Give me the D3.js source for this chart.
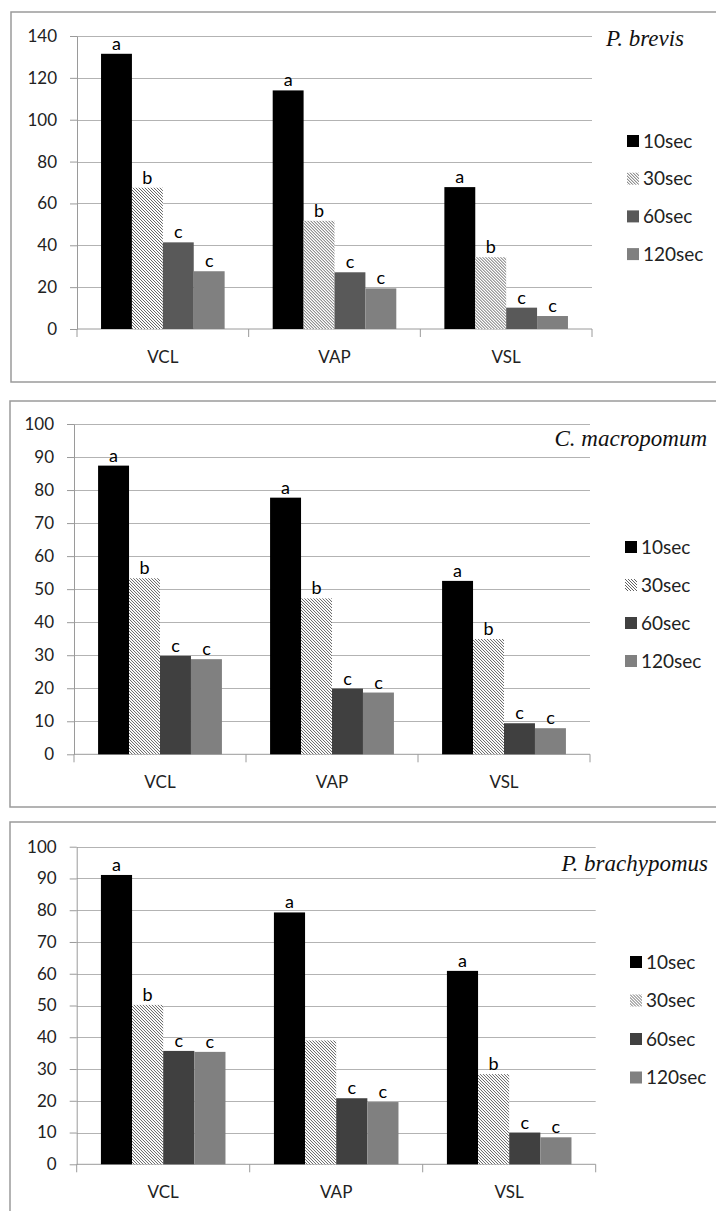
<!DOCTYPE html>
<html>
<head>
<meta charset="utf-8">
<script src="https://cdn.jsdelivr.net/npm/d3@7"></script>
<style>
  body { margin: 0; background: #fff; }
  text { font-family: Lato, "Liberation Sans", sans-serif; }
</style>
</head>
<body>
<div id="chart"></div>
<script>
var categories = ["VCL", "VAP", "VSL"];
var seriesNames = ["10sec", "30sec", "60sec", "120sec"];

// values per category, in series order
var brevisValues = [[131.5, 67.5, 41.4, 27.6], [114, 51.7, 27.1, 19.4], [67.8, 34.3, 10.2, 6.2]];
var brevisLetters = [["a", "b", "c", "c"], ["a", "b", "c", "c"], ["a", "b", "c", "c"]];

var macropomumValues = [[87.4, 53.3, 29.8, 28.8], [77.7, 47.2, 19.9, 18.7], [52.5, 34.9, 9.4, 7.9]];
var macropomumLetters = [["a", "b", "c", "c"], ["a", "b", "c", "c"], ["a", "b", "c", "c"]];

var brachypomusValues = [[91.1, 50.2, 35.7, 35.4], [79.3, 39.0, 20.8, 19.6], [60.9, 28.4, 10.0, 8.5]];
var brachypomusLetters = [["a", "b", "c", "c"], ["a", "", "c", "c"], ["a", "b", "c", "c"]];

var brevisTicks = [0, 20, 40, 60, 80, 100, 120, 140];
var tenTicks = [0, 10, 20, 30, 40, 50, 60, 70, 80, 90, 100];

var width = 716, height = 1211;

var svg = d3.select("#chart").append("svg")
  .attr("width", width)
  .attr("height", height);

var defs = svg.append("defs");
defs.append("pattern")
  .attr("id", "hatch")
  .attr("patternUnits", "userSpaceOnUse")
  .attr("width", 3)
  .attr("height", 3)
  .call(function(p) {
    p.append("rect").attr("width", 3).attr("height", 3).attr("fill", "#fff");
    p.append("path")
      .attr("d", "M-1,-1 L4,4 M-1,2 L1,4 M2,-1 L4,1")
      .attr("stroke", "#505050")
      .attr("stroke-width", 0.9);
  });

function drawPanel(opt) {
  var colours = ["#000", "url(#hatch)", opt.darkColour, "#808080"];

  // frame
  svg.append("rect")
    .attr("x", opt.box[0]).attr("y", opt.box[1])
    .attr("width", opt.box[2] - opt.box[0]).attr("height", opt.box[3] - opt.box[1])
    .attr("fill", "none")
    .attr("stroke", "#9a9a9a")
    .attr("stroke-width", 1.5);

  var y = d3.scaleLinear().domain([0, opt.ticks[opt.ticks.length - 1]]).range([opt.bottom, opt.top]);
  var x0 = d3.scaleBand().domain(categories).range([opt.left, opt.right]).paddingInner(0.28).paddingOuter(0.14);
  var x1 = d3.scaleBand().domain(seriesNames).range([0, x0.bandwidth()]);

  var g = svg.append("g");

  // gridlines
  g.selectAll(null)
    .data(opt.ticks.slice(1))
    .enter().append("line")
    .attr("x1", opt.left).attr("x2", opt.right)
    .attr("y1", function(d) { return Math.round(y(d)) + 0.5; })
    .attr("y2", function(d) { return Math.round(y(d)) + 0.5; })
    .attr("stroke", "#b3b3b3")
    .attr("stroke-width", 1);

  // y axis
  var yAxis = g.append("g")
    .attr("transform", "translate(" + opt.left + ",0)")
    .call(d3.axisLeft(y).tickValues(opt.ticks).tickSize(7).tickPadding(13).tickSizeOuter(0));
  yAxis.select(".domain").attr("stroke", "#9a9a9a");
  yAxis.selectAll(".tick line").attr("stroke", "#9a9a9a");
  yAxis.selectAll(".tick text")
    .attr("fill", "#222")
    .style("font-size", "17px")
    .style("font-family", "Lato, sans-serif");

  // x axis baseline + category separators
  g.append("line")
    .attr("x1", opt.left).attr("x2", opt.right)
    .attr("y1", y(0)).attr("y2", y(0))
    .attr("stroke", "#9a9a9a");
  var step = x0.step();
  g.selectAll(null)
    .data(d3.range(categories.length + 1))
    .enter().append("line")
    .attr("x1", function(i) { return opt.left + i * step; })
    .attr("x2", function(i) { return opt.left + i * step; })
    .attr("y1", y(0)).attr("y2", y(0) + 8)
    .attr("stroke", "#9a9a9a");

  g.selectAll(null)
    .data(categories)
    .enter().append("text")
    .attr("x", function(d) { return x0(d) + x0.bandwidth() / 2; })
    .attr("y", y(0) + 34)
    .attr("text-anchor", "middle")
    .attr("fill", "#222")
    .style("font-size", "17px")
    .text(function(d) { return d; });

  // bars
  var groups = g.selectAll(null)
    .data(categories)
    .enter().append("g")
    .attr("transform", function(d) { return "translate(" + x0(d) + ",0)"; });

  groups.selectAll("rect")
    .data(function(d, i) { return opt.values[i].map(function(v, j) { return {v: v, s: seriesNames[j], j: j}; }); })
    .enter().append("rect")
    .attr("x", function(d) { return x1(d.s); })
    .attr("width", x1.bandwidth())
    .attr("y", function(d) { return y(d.v); })
    .attr("height", function(d) { return y(0) - y(d.v); })
    .attr("fill", function(d) { return colours[d.j]; });

  groups.selectAll("text")
    .data(function(d, i) { return opt.values[i].map(function(v, j) { return {v: v, s: seriesNames[j], t: opt.letters[i][j]}; }); })
    .enter().append("text")
    .attr("x", function(d) { return x1(d.s) + x1.bandwidth() / 2; })
    .attr("y", function(d) { return y(d.v) - 4; })
    .attr("text-anchor", "middle")
    .attr("fill", "#000")
    .style("font-size", "18px")
    .text(function(d) { return d.t; });

  // species label
  svg.append("text")
    .attr("x", opt.label[0]).attr("y", opt.label[1])
    .attr("text-anchor", "end")
    .style("font-family", "'Liberation Serif', 'Times New Roman', serif")
    .style("font-style", "italic")
    .style("font-size", "23px")
    .attr("fill", "#111")
    .text(opt.species);

  // legend
  var legend = svg.append("g")
    .attr("transform", "translate(" + opt.legend[0] + "," + opt.legend[1] + ")");
  var items = legend.selectAll(null)
    .data(seriesNames)
    .enter().append("g")
    .attr("transform", function(d, i) { return "translate(0," + i * opt.legendStep + ")"; });
  items.append("rect")
    .attr("x", 0).attr("y", -6)
    .attr("width", 12).attr("height", 12)
    .attr("fill", function(d, i) { return colours[i]; });
  items.append("text")
    .attr("x", 16).attr("y", 6.5)
    .attr("fill", "#222")
    .style("font-size", "19px")
    .text(function(d) { return d; });
}

drawPanel({
  box: [11, 12, 722, 382],
  left: 77, right: 592, top: 36, bottom: 329,
  ticks: brevisTicks,
  values: brevisValues, letters: brevisLetters,
  darkColour: "#595959",
  species: "P. brevis", label: [684, 46],
  legend: [627, 141], legendStep: 37.7
});

drawPanel({
  box: [10, 401, 722, 807],
  left: 74, right: 590, top: 424, bottom: 754.3,
  ticks: tenTicks,
  values: macropomumValues, letters: macropomumLetters,
  darkColour: "#404040",
  species: "C. macropomum", label: [707, 446],
  legend: [625, 547], legendStep: 38
});

drawPanel({
  box: [10, 822, 722, 1220],
  left: 76.7, right: 595.7, top: 846.7, bottom: 1164.3,
  ticks: tenTicks,
  values: brachypomusValues, letters: brachypomusLetters,
  darkColour: "#404040",
  species: "P. brachypomus", label: [708, 871],
  legend: [630, 962], legendStep: 38.5
});
</script>
</body>
</html>
